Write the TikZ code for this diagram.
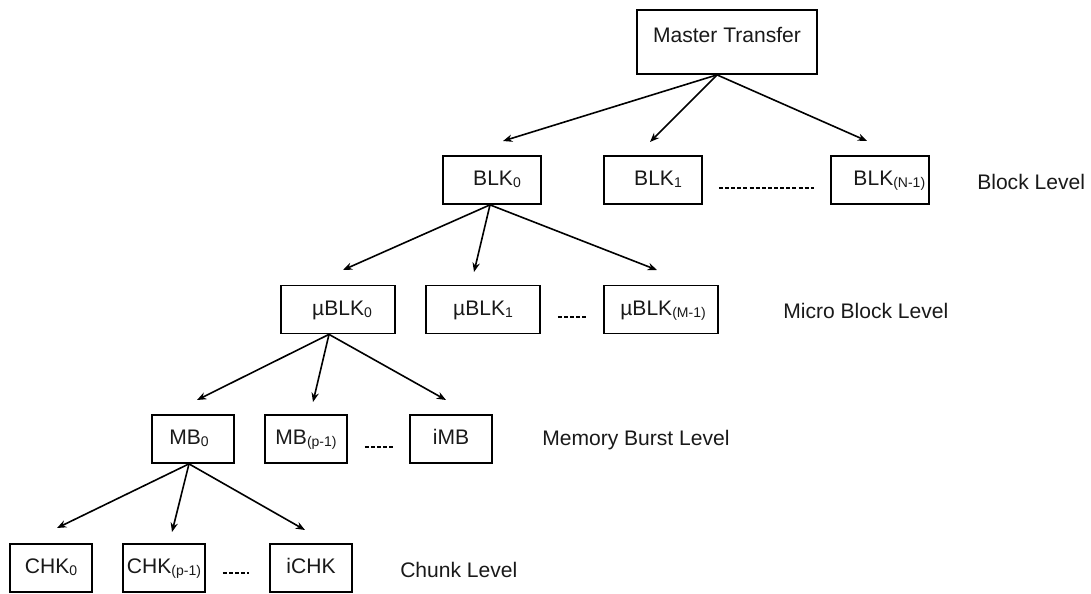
\documentclass[tikz,border=0pt]{standalone}
\usepackage{fontspec}
\setmainfont{Liberation Sans}
\usetikzlibrary{arrows.meta,calc}
\newcommand{\sbs}[1]{\raisebox{-1.5pt}{\fontsize{10.5}{12}\selectfont #1}}
\begin{document}
\begin{tikzpicture}[x=0.75pt,y=-0.75pt,
  every node/.style={font=\fontsize{15.8}{18}\selectfont, text=black!90},
  box/.style={draw, line width=1.3pt, rectangle, inner sep=0pt, minimum height=36pt,
              text height=11.5pt, text depth=3pt},
  bw/.style={minimum width=73.5pt},
  uw/.style={minimum width=85.5pt},
  mw/.style={minimum width=61.5pt},
  conn/.style={line width=1.2pt, -{Stealth[length=7pt,width=5.5pt]}},
  dots/.style={line width=0.9pt, dash pattern=on 3pt off 1.6pt},
  lvl/.style={anchor=west, inner sep=0pt}]
\useasboundingbox (0,0) rectangle (1091,593);

% master
\node[box, minimum width=135pt, minimum height=48pt,
      label={[yshift=5.2pt]center:Master Transfer}] (mt) at (727,42) {};

% block level
\node[box,bw] (blk0) at (492,180) {\hspace*{7.5pt}BLK\sbs{0}};
\node[box,bw] (blk1) at (653,180) {\hspace*{7.5pt}BLK\sbs{1}};
\node[box,bw] (blkn) at (880,180) {\hspace*{14pt}BLK\sbs{(N-1)}};
\node[lvl] (lb1) at (977,182) {Block Level};

% micro block level
\node[box,uw] (ub0) at (338,309.5) {\hspace*{6pt}µBLK\sbs{0}};
\node[box,uw] (ub1) at (483,309.5) {µBLK\sbs{1}};
\node[box,uw] (ubm) at (661,309.5) {\hspace*{3pt}µBLK\sbs{(M-1)}};
\node[lvl] (lb2) at (783,311) {Micro Block Level};

% memory burst level
\node[box,mw] (mb0) at (193,439) {MB\sbs{0}\hspace*{6pt}};
\node[box,mw] (mbp) at (306,439) {MB\sbs{(p-1)}};
\node[box,mw] (imb) at (451,439) {iMB};
\node[lvl] (lb3) at (542,440) {Memory Burst Level};

% chunk level
\node[box,mw] (chk0) at (51,568) {CHK\sbs{0}};
\node[box,mw] (chkp) at (164,568) {CHK\sbs{(p-1)}};
\node[box,mw] (ichk) at (311,568) {iCHK};
\node[lvl] (lb4) at (400,570) {Chunk Level};

% arrow end points
\coordinate (a1) at (503,141);
\coordinate (a2) at (650,142);
\coordinate (a3) at (867,141);
\coordinate (b1) at (343,270);
\coordinate (b2) at (474,272);
\coordinate (b3) at (657,270);
\coordinate (c1) at (197,400);
\coordinate (c2) at (313,402);
\coordinate (c3) at (446,400);
\coordinate (d1) at (57,528);
\coordinate (d2) at (172,532);
\coordinate (d3) at (305,530);

% connectors
\foreach \t in {a1,a2,a3} \draw[conn] ($(mt.south)+(-10,0)$) -- (\t);
\foreach \t in {b1,b2,b3} \draw[conn] ($(blk0.south)+(-2,0)$) -- (\t);
\foreach \t in {c1,c2,c3} \draw[conn] ($(ub0.south)+(-9,0)$) -- (\t);
\foreach \t in {d1,d2,d3} \draw[conn] ($(mb0.south)+(-4,0)$) -- (\t);

% dashed gaps
\draw[dots] ($(blk1.east)+(16,8)$) -- ($(blkn.west)+(-16,8)$);
\draw[dots] ($(ub1.east)+(17,7.5)$) -- ($(ubm.west)+(-16,7.5)$);
\draw[dots] ($(mbp.east)+(17,8)$) -- ($(imb.west)+(-16,8)$);
\draw[dots] ($(chkp.east)+(17,5)$) -- ($(ichk.west)+(-20,5)$);
\end{tikzpicture}
\end{document}
